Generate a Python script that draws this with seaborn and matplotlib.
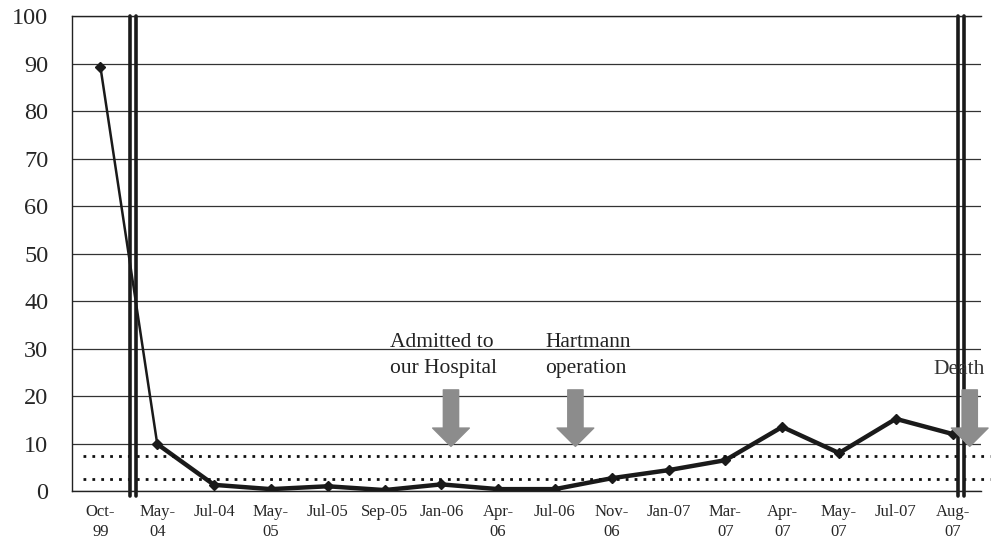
import numpy as np
import pandas as pd
import matplotlib
matplotlib.use("Agg")
import matplotlib.pyplot as plt
import seaborn as sns

# data
dates = ["Oct-\n99", "May-\n04", "Jul-04", "May-\n05", "Jul-05", "Sep-05", "Jan-06",
         "Apr-\n06", "Jul-06", "Nov-\n06", "Jan-07", "Mar-\n07", "Apr-\n07", "May-\n07",
         "Jul-07", "Aug-\n07"]
values = [89.3, 9.9, 1.3, 0.4, 1.0, 0.2, 1.4, 0.4, 0.4, 2.7, 4.4, 6.5, 13.5, 8.0, 15.2, 12.0]
ref_lines = [7.4, 2.5]
breaks = [(0.52, 0.63), (15.1, 15.2)]
events = ["Admitted to\nour Hospital", "Hartmann\noperation", "Death"]
event_pos = [6.17, 8.36, 15.3]

sns.set_theme(style="white")
plt.rcParams["font.family"] = ["Liberation Serif", "DejaVu Serif"]

df = pd.DataFrame({"x": np.arange(len(dates)), "y": values})

fig = plt.figure(figsize=(9.92, 5.39), dpi=100)
ax = fig.add_axes([0.0726, 0.089, 0.9164, 0.881])

# thin first segment, thicker rest
sns.lineplot(data=df.iloc[:2], x="x", y="y", color="#1a1a1a", linewidth=1.8, ax=ax)
sns.lineplot(data=df.iloc[1:], x="x", y="y", color="#1a1a1a", linewidth=3.2, ax=ax)
ax.plot(df["x"], df["y"], linestyle="none", marker="D", markersize=5, color="#1a1a1a")

ax.set_xlim(-0.5, len(dates) - 0.5)
ax.set_ylim(0, 100)
ax.set_yticks(range(0, 101, 10))
ax.set_yticklabels([str(v) for v in range(0, 101, 10)], fontsize=17.5)
ax.yaxis.grid(True, color="#333333", linewidth=0.9)
ax.set_xticks(range(len(dates)))
ax.set_xticklabels(dates, fontsize=12, linespacing=1.35, va="top")
ax.set_xticks(np.arange(0.5, len(dates) - 0.5), minor=True)
ax.tick_params(axis="x", which="major", length=0, pad=9)
ax.tick_params(axis="x", which="minor", length=4, width=0.8, color="#333333", direction="in")
ax.tick_params(axis="y", length=0, pad=17)
ax.set_xlabel("")
ax.set_ylabel("")
ax.spines["right"].set_visible(False)
for s in ["left", "bottom", "top"]:
    ax.spines[s].set_color("#222222")
    ax.spines[s].set_linewidth(1.0)

for yv in ref_lines:
    ax.plot([-0.3, len(dates) - 0.35], [yv, yv], linestyle=(0, (1, 2.2)), color="#111111",
            linewidth=2.0, clip_on=False)

for a, b in breaks:
    for xv in (a, b):
        ax.plot([xv, xv], [-1, 100], color="#1a1a1a", linewidth=2.6, clip_on=False)

for xp in event_pos:
    ax.annotate("", xy=(xp, 9.4), xytext=(xp, 21.3),
                arrowprops=dict(arrowstyle="simple,head_width=1.2,head_length=0.6,tail_width=0.5",
                                color="#8c8c8c", shrinkA=0, shrinkB=0, mutation_scale=22))

ax.text(5.1, 33.2, events[0], ha="left", va="top", fontsize=15.5, linespacing=1.45, color="#222222")
ax.text(7.83, 33.2, events[1], ha="left", va="top", fontsize=15.5, linespacing=1.45, color="#222222")
ax.text(14.66, 27.6, events[2], ha="left", va="top", fontsize=15.5, color="#333333")

fig.savefig("out.png", dpi=100)
